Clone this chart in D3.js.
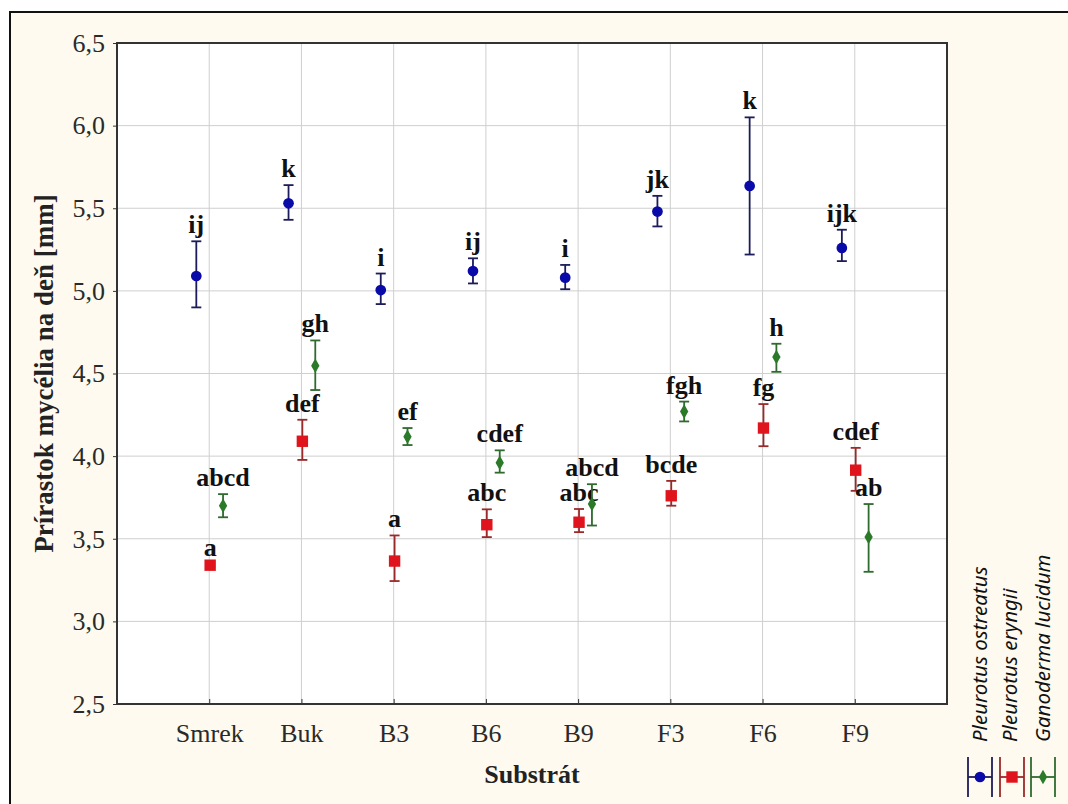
<!DOCTYPE html>
<html>
<head>
    <meta charset="UTF-8" />
    <title>Prírastok mycélia</title>
    <style>
        body { margin: 0; background: #fff; }
        svg { display: block; }
    </style>
</head>
<body>
    <svg id="chart"></svg>
    <script src="https://d3js.org/d3.v7.min.js"></script>
    <script>
        // substráty (os x)
        const substrates = ["Smrek", "Buk", "B3", "B6", "B9", "F3", "F6", "F9"];
        const species = ["Pleurotus ostreatus", "Pleurotus eryngii", "Ganoderma lucidum"];

        // priemer, dolna a horna hranica chyby, pismena (odcitane z obrazka)
        const ostreatusMean = [5.09, 5.53, 5.005, 5.12, 5.08, 5.48, 5.635, 5.26];
        const ostreatusLow = [4.90, 5.43, 4.92, 5.045, 5.01, 5.39, 5.22, 5.18];
        const ostreatusHigh = [5.30, 5.64, 5.105, 5.197, 5.157, 5.575, 6.05, 5.37];
        const ostreatusLetters = ["ij", "k", "i", "ij", "i", "jk", "k", "ijk"];

        const eryngiiMean = [3.34, 4.09, 3.365, 3.585, 3.60, 3.76, 4.17, 3.915];
        const eryngiiLow = [3.33, 3.977, 3.244, 3.51, 3.54, 3.70, 4.06, 3.79];
        const eryngiiHigh = [3.35, 4.22, 3.52, 3.678, 3.68, 3.85, 4.315, 4.05];
        const eryngiiLetters = ["a", "def", "a", "abc", "abc", "bcde", "fg", "cdef"];

        const lucidumMean = [3.70, 4.547, 4.117, 3.96, 3.71, 4.27, 4.60, 3.51];
        const lucidumLow = [3.63, 4.40, 4.067, 3.90, 3.58, 4.21, 4.51, 3.30];
        const lucidumHigh = [3.77, 4.70, 4.17, 4.035, 3.83, 4.33, 4.68, 3.71];
        const lucidumLetters = ["abcd", "gh", "ef", "cdef", "abcd", "fgh", "h", "ab"];

        const yTicks = [2.5, 3.0, 3.5, 4.0, 4.5, 5.0, 5.5, 6.0, 6.5];

        let width = 1068,
            height = 804;

        const serif = "'Liberation Serif', 'Times New Roman', serif";

        let svg = d3.select("#chart")
            .attr("width", width)
            .attr("height", height);

        // ramik okolo celeho grafu
        svg.append("rect")
            .attr("x", 10).attr("y", 12)
            .attr("width", 1080).attr("height", 820)
            .attr("fill", "#fefaef")
            .attr("stroke", "#111")
            .attr("stroke-width", 2);

        const plot = { left: 117, right: 947, top: 43, bottom: 704 };

        let x = d3.scaleLinear().domain([0, 9]).range([plot.left, plot.right]);
        let y = d3.scaleLinear().domain([2.5, 6.5]).range([plot.bottom, plot.top]);

        const comma = d3.formatLocale({ decimal: ",", thousands: " ", grouping: [3], currency: ["", ""] }).format(".1f");

        // plocha grafu
        svg.append("rect")
            .attr("x", plot.left).attr("y", plot.top)
            .attr("width", plot.right - plot.left).attr("height", plot.bottom - plot.top)
            .attr("fill", "#fff");

        // mriezka
        svg.append("g")
            .selectAll("line")
            .data(yTicks.slice(1, -1))
            .join("line")
            .attr("x1", plot.left).attr("x2", plot.right)
            .attr("y1", d => y(d)).attr("y2", d => y(d))
            .attr("stroke", "#cfcfcf").attr("stroke-width", 1);

        svg.append("g")
            .selectAll("line")
            .data(substrates)
            .join("line")
            .attr("x1", (d, i) => x(i + 1)).attr("x2", (d, i) => x(i + 1))
            .attr("y1", plot.top).attr("y2", plot.bottom)
            .attr("stroke", "#cfcfcf").attr("stroke-width", 1);

        // osi
        let yAxis = d3.axisLeft(y).tickValues(yTicks).tickFormat(comma).tickSize(4).tickPadding(8);
        let gy = svg.append("g").attr("transform", `translate(${plot.left},0)`).call(yAxis);
        gy.select(".domain").remove();
        gy.selectAll("line").attr("stroke", "#333");
        gy.selectAll("text")
            .attr("font-family", serif)
            .attr("font-size", 26).attr("fill", "#2a2a2a");

        let xAxis = d3.axisBottom(x).tickValues(d3.range(1, 9))
            .tickFormat(d => substrates[d - 1]).tickSize(-5).tickPadding(20);
        let gx = svg.append("g").attr("transform", `translate(0,${plot.bottom})`).call(xAxis);
        gx.select(".domain").remove();
        gx.selectAll("line").attr("stroke", "#333");
        gx.selectAll("text")
            .attr("font-family", serif)
            .attr("font-size", 26).attr("fill", "#2a2a2a");

        // ram plochy grafu
        svg.append("rect")
            .attr("x", plot.left).attr("y", plot.top)
            .attr("width", plot.right - plot.left).attr("height", plot.bottom - plot.top)
            .attr("fill", "none").attr("stroke", "#333").attr("stroke-width", 2);

        // nazvy osi
        svg.append("text")
            .attr("transform", `translate(53,${(plot.top + plot.bottom) / 2}) rotate(-90)`)
            .attr("text-anchor", "middle")
            .attr("font-family", serif)
            .attr("font-weight", "bold").attr("font-size", 27)
            .attr("fill", "#222")
            .text("Prírastok mycélia na deň [mm]");

        svg.append("text")
            .attr("x", (plot.left + plot.right) / 2).attr("y", 783)
            .attr("text-anchor", "middle")
            .attr("font-family", serif)
            .attr("font-weight", "bold").attr("font-size", 26)
            .attr("fill", "#222")
            .text("Substrát");

        // serie
        const series = [
            { mean: ostreatusMean, low: ostreatusLow, high: ostreatusHigh, letters: ostreatusLetters,
              offset: -0.14, fill: "#0a0aa8", bar: "#1c1c5a", shape: d3.symbolCircle, size: 90 },
            { mean: eryngiiMean, low: eryngiiLow, high: eryngiiHigh, letters: eryngiiLetters,
              offset: 0.01, fill: "#e0141c", bar: "#9a2a2a", shape: d3.symbolSquare, size: 130 },
            { mean: lucidumMean, low: lucidumLow, high: lucidumHigh, letters: lucidumLetters,
              offset: 0.15, fill: "#2a7a2a", bar: "#2f6a2f", shape: d3.symbolDiamond, size: 60 }
        ];

        series.forEach(s => {
            let rows = substrates.map((name, i) => ({
                cx: x(i + 1 + s.offset), mean: s.mean[i], low: s.low[i], high: s.high[i], letter: s.letters[i]
            }));
            let g = svg.append("g");

            g.selectAll(".whisker").data(rows).join("line")
                .attr("x1", d => d.cx).attr("x2", d => d.cx)
                .attr("y1", d => y(d.low)).attr("y2", d => y(d.high))
                .attr("stroke", s.bar).attr("stroke-width", 1.8);
            ["low", "high"].forEach(k => {
                g.selectAll(".cap-" + k).data(rows).join("line")
                    .attr("x1", d => d.cx - 5).attr("x2", d => d.cx + 5)
                    .attr("y1", d => y(d[k])).attr("y2", d => y(d[k]))
                    .attr("stroke", s.bar).attr("stroke-width", 1.8);
            });

            g.selectAll("path").data(rows).join("path")
                .attr("transform", d => `translate(${d.cx},${y(d.mean)})`)
                .attr("d", d3.symbol().type(s.shape).size(s.size))
                .attr("fill", s.fill);

            g.selectAll("text").data(rows).join("text")
                .attr("x", d => d.cx).attr("y", d => y(d.high) - 8)
                .attr("text-anchor", "middle")
                .attr("font-family", serif)
                .attr("font-weight", "bold").attr("font-size", 26)
                .attr("fill", "#111")
                .text(d => d.letter);
        });

        // legenda (zvisla)
        const legX = [980, 1012, 1043];
        const legTextX = [987, 1017, 1050];
        const legend = svg.append("g");
        series.forEach((s, i) => {
            let lg = legend.append("g").attr("transform", `translate(${legX[i]},777)`);
            lg.append("line").attr("x1", -12).attr("x2", 12).attr("stroke", s.bar).attr("stroke-width", 1.8);
            [-12, 12].forEach(dx => lg.append("line")
                .attr("x1", dx).attr("x2", dx).attr("y1", -20).attr("y2", 20)
                .attr("stroke", s.bar).attr("stroke-width", 1.8));
            lg.append("path").attr("d", d3.symbol().type(s.shape).size(s.size)).attr("fill", s.fill);

            legend.append("text")
                .attr("transform", `translate(${legTextX[i]},742) rotate(-90)`)
                .attr("font-family", "'Noto Sans', 'Open Sans', sans-serif")
                .attr("font-style", "italic").attr("font-size", 20.5)
                .attr("fill", "#111")
                .text(species[i]);
        });
    </script>
</body>
</html>
